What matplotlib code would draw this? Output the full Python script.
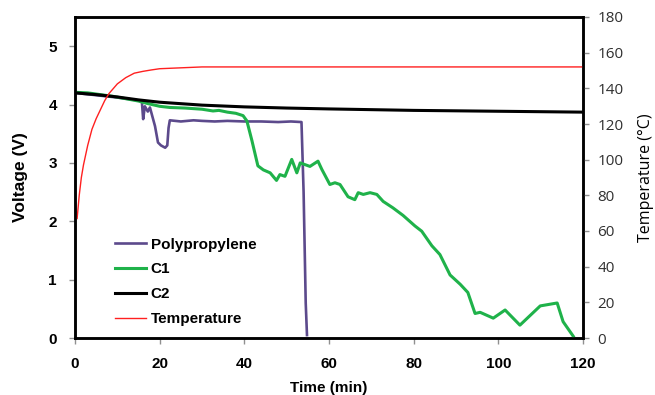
import matplotlib
matplotlib.use("Agg")
import matplotlib.pyplot as plt
from matplotlib.lines import Line2D

# ---- data ----
pp_t = [0, 5, 10, 15, 15.8, 16.1, 16.5, 17.2, 17.7, 18.9, 19.6, 20.3, 21.3, 21.8, 22.1, 22.4,
        25, 28, 30, 33, 36, 40, 44, 48, 51, 53.5, 54.0, 54.5, 54.8]
pp_v = [4.20, 4.16, 4.12, 4.07, 4.05, 3.75, 3.97, 3.88, 3.95, 3.63, 3.35, 3.30, 3.26, 3.30, 3.60, 3.73,
        3.71, 3.73, 3.72, 3.71, 3.72, 3.71, 3.71, 3.70, 3.71, 3.70, 2.50, 0.60, 0.05]

c1_t = [0, 3, 6, 9, 12, 15, 17, 20, 22.4, 26, 30, 32.6, 34, 36, 38, 39.7, 40.6, 41.8, 43.2, 44.5,
        46.1, 47.6, 48.4, 49.6, 51.2, 52.4, 53.2, 55.5, 57.4, 58.3, 60.2, 61.4, 62.6, 64.5, 66.1,
        66.9, 68.1, 69.7, 71.3, 72.8, 75.1, 77.5, 80.3, 81.9, 84.3, 86.2, 88.6, 91, 92.8, 94.5,
        95.7, 98.8, 101.6, 105.1, 109.9, 113.9, 115.3, 117.7]
c1_v = [4.21, 4.20, 4.17, 4.14, 4.10, 4.06, 4.02, 3.97, 3.95, 3.94, 3.92, 3.89, 3.90, 3.87, 3.85,
        3.81, 3.72, 3.38, 2.95, 2.88, 2.83, 2.70, 2.80, 2.77, 3.06, 2.83, 3.00, 2.94, 3.03, 2.89,
        2.63, 2.66, 2.63, 2.42, 2.37, 2.49, 2.46, 2.49, 2.46, 2.34, 2.23, 2.10, 1.92, 1.83, 1.58,
        1.43, 1.08, 0.92, 0.78, 0.42, 0.44, 0.34, 0.48, 0.22, 0.55, 0.60, 0.28, 0.03]

c2_t = [0, 5, 10, 15, 20, 30, 40, 50, 60, 80, 100, 120]
c2_v = [4.20, 4.17, 4.13, 4.08, 4.04, 3.99, 3.96, 3.94, 3.925, 3.90, 3.885, 3.87]

temp_t = [0.5, 1, 1.5, 2, 3, 4, 5, 6, 7, 8, 10, 12, 14, 16, 18, 20, 25, 30, 120]
temp_c = [67, 80, 90, 97, 108, 117, 123, 128, 133, 137, 142.5, 146, 148.5, 149.5, 150.3, 151, 151.5, 152, 152]

x_ticks = [0, 20, 40, 60, 80, 100, 120]
v_ticks = [0, 1, 2, 3, 4, 5]
t_ticks = [0, 20, 40, 60, 80, 100, 120, 140, 160, 180]

labels = ["Polypropylene", "C1", "C2", "Temperature"]
colors = ["#5c4a8c", "#1fb24a", "#000000", "#ff2020"]

# ---- plot ----
fig = plt.figure(figsize=(6.55, 3.95), dpi=100)
ax = fig.add_axes([75/655, 57/395, 508/655, 321/395])
ax2 = ax.twinx()

ax.plot(pp_t, pp_v, color=colors[0], lw=1.9, zorder=2)
ax.plot(c1_t, c1_v, color=colors[1], lw=2.2, zorder=3)
ax.plot(c2_t, c2_v, color=colors[2], lw=2.2, zorder=4)
ax2.plot(temp_t, temp_c, color=colors[3], lw=1.0)

ax.set_xlim(0, 120)
ax.set_ylim(0, 5.5)
ax2.set_ylim(0, 180)
ax.set_xticks(x_ticks)
ax.set_yticks(v_ticks)
ax2.set_yticks(t_ticks)

bold = dict(family="Liberation Sans", weight="bold")
ax.set_xticklabels([str(v) for v in x_ticks], fontsize=11, **bold)
ax.set_yticklabels([str(v) for v in v_ticks], fontsize=11, **bold)
ax2.set_yticklabels([str(v) for v in t_ticks], fontsize=11, family="Open Sans", color="#303030")
ax.set_xlabel("Time (min)", fontsize=11, labelpad=7, **bold)
ax.set_ylabel("Voltage (V)", fontsize=12.5, labelpad=15, **bold)
ax2.set_ylabel("Temperature (°C)", fontsize=11.5, family="Open Sans", labelpad=10)

for a in (ax, ax2):
    for s in a.spines.values():
        s.set_linewidth(1.8)
ax.tick_params(axis="x", direction="out", length=4, width=1, color="#909090", pad=10)
ax.tick_params(axis="y", direction="out", length=4, width=1, color="#909090", pad=9)
ax2.tick_params(axis="y", direction="out", length=4, width=1, color="#909090", pad=6.5)

handles = [Line2D([], [], color=colors[0], lw=1.9),
           Line2D([], [], color=colors[1], lw=2.2),
           Line2D([], [], color=colors[2], lw=2.2),
           Line2D([], [], color=colors[3], lw=1.0)]
ax.legend(handles, labels, loc="upper left", bbox_to_anchor=(0.079, 0.313),
          frameon=False, borderaxespad=0, borderpad=0, handlelength=2.0,
          handletextpad=0.33, labelspacing=0.71,
          prop=dict(family="Liberation Sans", weight="bold", size=11))

fig.savefig("out.png", dpi=100)
